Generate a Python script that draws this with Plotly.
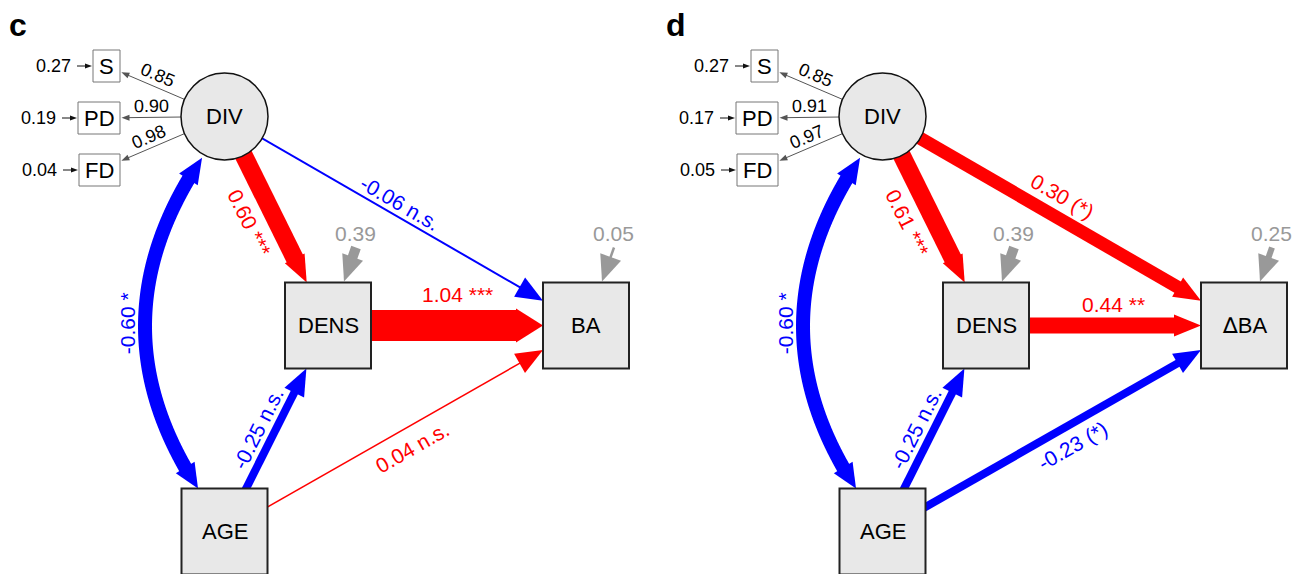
import numpy as np
import plotly.graph_objects as go

# ---------------- data ----------------
panels = ["c", "d"]
indicators = ["S", "PD", "FD"]
loadings_c = [0.85, 0.90, 0.98]
loadings_d = [0.85, 0.91, 0.97]
indicator_resid_c = [0.27, 0.19, 0.04]
indicator_resid_d = [0.27, 0.17, 0.05]
response_c = "BA"
response_d = "<span style='font-family:DejaVu Sans'>\u2206</span>BA"
path_from = ["DIV", "DIV", "DENS", "AGE", "AGE"]
path_to = ["DENS", "RESP", "RESP", "DENS", "RESP"]
coef_c = [0.60, -0.06, 1.04, -0.25, 0.04]
sig_c = ["***", "n.s.", "***", "n.s.", "n.s."]
coef_d = [0.61, 0.30, 0.44, -0.25, -0.23]
sig_d = ["***", "(*)", "**", "n.s.", "(*)"]
cov_c, cov_sig_c = -0.60, "*"
cov_d, cov_sig_d = -0.60, "*"
resid_nodes = ["DENS", "RESP"]
resid_c = [0.39, 0.05]
resid_d = [0.39, 0.25]

# ---------------- layout / style ----------------
PANEL_DX = {"c": 0, "d": 658}
NODE_XY = {"DIV": (224.5, 116.5), "DENS": (328, 325.5), "RESP": (586, 325.5), "AGE": (224.5, 531.5)}
IND_XY = [(106.5, 66), (99, 118), (99.5, 170)]
IND_WH = [(27, 32), (42, 32), (41, 32)]
CIRCLE_R = 43.5
BOX_HALF = 43
PATH_WIDTH = {"c": [18, 2, 31, 8, 1.5], "d": [18, 13, 16, 8, 8]}
LABEL_F = {"c": [0.44, 0.47, 0.5, 0.44, 0.49], "d": [0.44, 0.47, 0.49, 0.44, 0.5]}
LABEL_OFF = {"c": [25, -12.5, -31.5, -16.5, 20], "d": [25, -21, -21.5, -16.5, 20]}
RESID_WIDTH = {"c": [10, 2.5], "d": [10, 6]}
COV_WIDTH = 14
RED, BLUE, GRAY = "#ff0000", "#0000ff", "#999999"
FONT = "Liberation Sans, Arial, Helvetica, sans-serif"
NODE_FILL = "#e8e8e8"
EDGE_FONT = 21

shapes, annots = [], []


def unit(dx, dy):
    L = np.hypot(dx, dy)
    return dx / L, dy / L


def box_clip(hw, hh, ux, uy):
    tx = hw / abs(ux) if abs(ux) > 1e-9 else np.inf
    ty = hh / abs(uy) if abs(uy) > 1e-9 else np.inf
    return min(tx, ty)


def add_line(x0, y0, x1, y1, w, color):
    shapes.append(dict(type="line", xref="x", yref="y", x0=x0, y0=y0, x1=x1, y1=y1,
                       line=dict(color=color, width=w)))


def add_head(tx, ty, ux, uy, hl, hw, color):
    nx, ny = -uy, ux
    bx, by = tx - ux * hl, ty - uy * hl
    p = (f"M {tx:.2f},{ty:.2f} L {bx + nx * hw / 2:.2f},{by + ny * hw / 2:.2f} "
         f"L {bx - nx * hw / 2:.2f},{by - ny * hw / 2:.2f} Z")
    shapes.append(dict(type="path", xref="x", yref="y", path=p, fillcolor=color,
                       line=dict(width=0)))


def add_arrow(x0, y0, x1, y1, w, color, hl=27, hw=None):
    ux, uy = unit(x1 - x0, y1 - y0)
    if hw is None:
        hw = max(22, w + 3)
    bx, by = x1 - ux * (hl - 1), y1 - uy * (hl - 1)
    add_line(x0, y0, bx, by, w, color)
    add_head(x1, y1, ux, uy, hl, hw, color)


def add_text(x, y, text, size, color="#000000", angle=0, bold=False):
    annots.append(dict(x=x, y=y, xref="x", yref="y", showarrow=False,
                       text=f"<b>{text}</b>" if bold else text,
                       font=dict(family=FONT, size=size, color=color),
                       textangle=angle, xanchor="center", yanchor="middle"))


def readable_angle(ux, uy):
    a = np.degrees(np.arctan2(uy, ux))
    if a > 90:
        a -= 180
    if a < -90:
        a += 180
    return a


def fmt(v):
    return f"{v:.2f}"


node_shapes = []

for p in panels:
    dx = PANEL_DX[p]
    coef = coef_c if p == "c" else coef_d
    sig = sig_c if p == "c" else sig_d
    loads = loadings_c if p == "c" else loadings_d
    iresid = indicator_resid_c if p == "c" else indicator_resid_d
    resid = resid_c if p == "c" else resid_d
    cov, cov_sig = (cov_c, cov_sig_c) if p == "c" else (cov_d, cov_sig_d)
    resp = response_c if p == "c" else response_d
    xy = {k: (v[0] + dx, v[1]) for k, v in NODE_XY.items()}

    # panel letter
    add_text(18 + dx, 25, p, 32, bold=True)

    # --- structural paths ---
    for i, (a, b) in enumerate(zip(path_from, path_to)):
        (x0, y0), (x1, y1) = xy[a], xy[b]
        ux, uy = unit(x1 - x0, y1 - y0)
        d_src = CIRCLE_R if a == "DIV" else box_clip(BOX_HALF, BOX_HALF, ux, uy)
        d_dst = box_clip(BOX_HALF, BOX_HALF, ux, uy)
        sx, sy = x0 + ux * d_src, y0 + uy * d_src
        tx, ty = x1 - ux * d_dst, y1 - uy * d_dst
        color = RED if coef[i] > 0 else BLUE
        add_arrow(x0, y0, tx, ty, PATH_WIDTH[p][i], color)
        f, off = LABEL_F[p][i], LABEL_OFF[p][i]
        lx = sx + (tx - sx) * f - uy * off
        ly = sy + (ty - sy) * f + ux * off
        add_text(lx, ly, f"{fmt(coef[i])} {sig[i]}", EDGE_FONT, color, readable_angle(ux, uy))

    # --- covariance DIV <-> AGE (curved, double headed) ---
    cx, cy = xy["DIV"]
    ang = np.radians(118.5)
    P0 = np.array([cx + (CIRCLE_R + 3.5) * np.cos(ang), cy + (CIRCLE_R + 3.5) * np.sin(ang)])
    ax_, ay_ = xy["AGE"]
    P2 = np.array([ax_ - 26.5, ay_ - BOX_HALF])
    P1 = (P0 + P2) / 2 + np.array([-110.0, 0.0])
    ts = np.linspace(0, 1, 601)[:, None]
    pts = (1 - ts) ** 2 * P0 + 2 * (1 - ts) * ts * P1 + ts ** 2 * P2
    cum = np.concatenate([[0], np.cumsum(np.hypot(*np.diff(pts, axis=0).T))])
    hl = 25
    ia = int(np.searchsorted(cum, hl))
    ib = int(np.searchsorted(cum, cum[-1] - hl))
    seg = pts[max(ia - 2, 0):ib + 3]
    color = RED if cov > 0 else BLUE
    shapes.append(dict(type="path", xref="x", yref="y",
                       path="M " + " L ".join(f"{x:.2f},{y:.2f}" for x, y in seg),
                       line=dict(color=color, width=COV_WIDTH)))
    for tip, base in ((P0, pts[ia]), (P2, pts[ib])):
        ux, uy = unit(tip[0] - base[0], tip[1] - base[1])
        add_head(tip[0], tip[1], ux, uy, np.hypot(*(tip - base)), 22, color)
    mid = 0.25 * P0 + 0.5 * P1 + 0.25 * P2
    add_text(mid[0] - 18, mid[1], f"{fmt(cov)} {cov_sig}", EDGE_FONT, color, -90)

    # --- indicators of DIV ---
    for i, name in enumerate(indicators):
        ix, iy = IND_XY[i][0] + dx, IND_XY[i][1]
        w, h = IND_WH[i]
        ux, uy = unit(ix - cx, iy - cy)
        d = box_clip(w / 2, h / 2, ux, uy) + 1.5
        tx, ty = ix - ux * d, iy - uy * d
        sx, sy = cx + ux * CIRCLE_R, cy + uy * CIRCLE_R
        add_arrow(cx, cy, tx, ty, 1, "#555555", hl=8, hw=6)
        lx = (sx + tx) / 2 - uy * 11.5
        ly = (sy + ty) / 2 + ux * 11.5
        add_text(lx, ly, fmt(loads[i]), 18, "#000000", readable_angle(ux, uy))
        node_shapes.append(dict(type="rect", xref="x", yref="y", x0=ix - w / 2, x1=ix + w / 2,
                                y0=iy - h / 2, y1=iy + h / 2, fillcolor="#ffffff",
                                line=dict(color="#777777", width=1)))
        add_text(ix, iy, name, 22)
        left = ix - w / 2
        add_arrow(left - 16, iy, left - 1, iy, 1, "#111111", hl=7, hw=5)
        add_text(left - 40, iy, fmt(iresid[i]), 18)

    # --- residuals of DENS and response ---
    for i, n in enumerate(resid_nodes):
        nx_, ny_ = xy[n]
        tx, ty = nx_ + 16, ny_ - BOX_HALF - 1
        add_arrow(tx + 12, ty - 34, tx, ty, RESID_WIDTH[p][i], GRAY, hl=26, hw=22)
        add_text(nx_ + 27, ny_ - 92, fmt(resid[i]), 21, GRAY)

    # --- nodes ---
    node_shapes.append(dict(type="circle", xref="x", yref="y", x0=cx - CIRCLE_R, x1=cx + CIRCLE_R,
                            y0=cy - CIRCLE_R, y1=cy + CIRCLE_R, fillcolor=NODE_FILL,
                            line=dict(color="#111111", width=1.5)))
    add_text(cx, cy, "DIV", 22)
    for n, label in (("DENS", "DENS"), ("RESP", resp), ("AGE", "AGE")):
        nx_, ny_ = xy[n]
        node_shapes.append(dict(type="rect", xref="x", yref="y", x0=nx_ - BOX_HALF, x1=nx_ + BOX_HALF,
                                y0=ny_ - BOX_HALF, y1=ny_ + BOX_HALF, fillcolor=NODE_FILL,
                                line=dict(color="#222222", width=2)))
        add_text(nx_, ny_, label, 22)

fig = go.Figure()
fig.update_layout(
    width=1304, height=574, autosize=False,
    margin=dict(l=0, r=0, t=0, b=0),
    paper_bgcolor="#ffffff", plot_bgcolor="#ffffff",
    xaxis=dict(range=[0, 1304], visible=False, fixedrange=True),
    yaxis=dict(range=[574, 0], visible=False, fixedrange=True),
    shapes=shapes + node_shapes,
    annotations=annots,
    showlegend=False,
)
fig.write_html("out.html", config={"displayModeBar": False},
               post_script="document.body.style.margin='0';document.body.style.overflow='hidden';")
